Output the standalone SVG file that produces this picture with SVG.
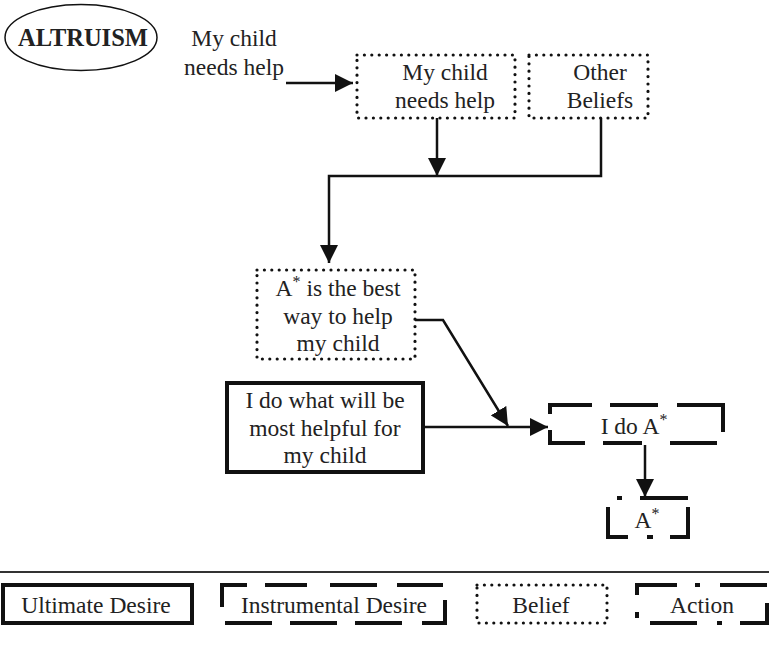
<svg xmlns="http://www.w3.org/2000/svg" width="769" height="649" viewBox="0 0 769 649">
<style>
text{font-family:"Liberation Serif","Times New Roman",serif;font-size:23.5px;fill:#222;text-anchor:middle}
.sup{font-size:16px;fill:#222}
.dot{fill:none;stroke:#111;stroke-width:3.2;stroke-linecap:round;stroke-dasharray:0 7.4}
.solid{fill:none;stroke:#111;stroke-width:4}
.seg{fill:none;stroke:#111;stroke-width:4;stroke-linecap:butt}
.conn{fill:none;stroke:#111;stroke-width:2.5}
.arr{marker-end:url(#ah)}
</style>
<defs>
<marker id="ah" markerUnits="userSpaceOnUse" markerWidth="18" markerHeight="18" refX="18" refY="9" orient="auto" viewBox="0 0 18 18">
<path d="M0,0 L18,9 L0,18 z" fill="#111"/>
</marker>
</defs>
<rect width="769" height="649" fill="#fff"/>

<g id="title">
<ellipse cx="81" cy="37.5" rx="76" ry="33" fill="none" stroke="#111" stroke-width="1.5"/>
<text x="83" y="46" style="font-weight:bold;font-size:24.5px">ALTRUISM</text>
</g>

<g id="input">
<text x="234" y="46">My child</text>
<text x="234" y="75">needs help</text>
</g>

<g id="belief-child">
<rect class="dot" x="357" y="55" width="158" height="63"/>
<text x="445" y="80">My child</text>
<text x="445" y="108">needs help</text>
</g>

<g id="belief-other">
<rect class="dot" x="529" y="55" width="119" height="63"/>
<text x="600" y="80">Other</text>
<text x="600" y="108">Beliefs</text>
</g>

<g id="belief-best">
<rect class="dot" x="257" y="270" width="158" height="89"/>
<text x="338" y="296">A<tspan class="sup" dy="-9">*</tspan><tspan dy="9"> is the best</tspan></text>
<text x="338" y="324">way to help</text>
<text x="338" y="351">my child</text>
</g>

<g id="ultimate-desire">
<rect class="solid" x="227" y="383" width="196" height="89"/>
<text x="325" y="408">I do what will be</text>
<text x="325" y="436">most helpful for</text>
<text x="325" y="463">my child</text>
</g>

<g id="instrumental-desire">
<path class="seg" d="M550,414 V405 H592 M610,405 H658 M677,405 H723 V432 M550,430 V443 H585 M603,443 H642 M670,443 H717"/>
<text x="634" y="434">I do A<tspan class="sup" dy="-9">*</tspan></text>
</g>

<g id="action">
<path class="seg" d="M617,498 H622 M640,498 H688 M688,507 V537 H670 M608,507 V537 H628 M647,537 H653"/>
<text x="647" y="528">A<tspan class="sup" dy="-9">*</tspan></text>
</g>

<g id="connectors">
<line class="conn arr" x1="286" y1="83" x2="353" y2="83"/>
<line class="conn arr" x1="437" y1="118" x2="437" y2="176"/>
<polyline class="conn arr" points="601,118 601,176 329,176 329,263"/>
<polyline class="conn arr" points="415,320 443,320 508,426"/>
<line class="conn arr" x1="423" y1="427" x2="548" y2="427"/>
<line class="conn arr" x1="645" y1="445" x2="645" y2="497"/>
</g>

<g id="legend">
<line x1="0" y1="572" x2="769" y2="572" stroke="#333" stroke-width="2"/>
<rect class="solid" x="3" y="585" width="189" height="38"/>
<text x="96" y="613">Ultimate Desire</text>
<path class="seg" d="M222,607 V585 H247 M265,585 H307 M330,585 H377 M397,585 H443 M225,623 H272 M290,623 H337 M355,623 H402 M422,623 H445 V600"/>
<text x="334" y="613">Instrumental Desire</text>
<rect class="dot" x="477" y="585" width="130" height="38"/>
<text x="541" y="613">Belief</text>
<path class="seg" d="M637,595 V585 H677 M695,585 H700 M720,585 H767 M637,612 V618 M650,623 H697 M717,623 H722 M740,623 H767 V603"/>
<text x="702" y="613">Action</text>
</g>
</svg>
